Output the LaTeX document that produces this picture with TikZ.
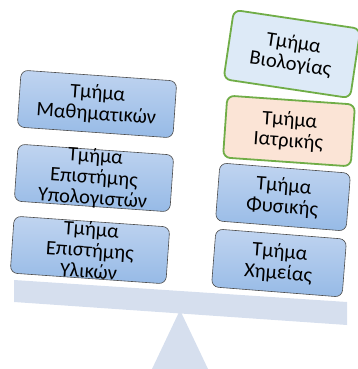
\documentclass[tikz,border=0pt]{standalone}
\usepackage{fontspec}
\setmainfont{Carlito}
\usepackage{tikz}
\usetikzlibrary{positioning}
\usetikzlibrary{shapes,calc}
\definecolor{beamblue}{RGB}{214,223,238}
\definecolor{boxtop}{RGB}{192,212,240}
\definecolor{boxbot}{RGB}{150,186,230}
\definecolor{bioblue}{RGB}{221,234,247}
\definecolor{medpeach}{RGB}{251,228,214}
\definecolor{leafgreen}{RGB}{112,173,71}
\tikzset{
	dept/.style = {rectangle, rounded corners=7pt, draw=black!70, semithick,
	 top color=boxtop, bottom color=boxbot,
	 minimum width=156pt, minimum height=57pt},
	deptr/.style = {dept, minimum width=131pt, minimum height=58pt},
	greenbox/.style = {rectangle, rounded corners=7pt, draw=leafgreen,
	 line width=1.8pt, minimum width=128pt, minimum height=62pt},
	depttext/.style = {align=center, font=\fontsize{20.5}{21}\selectfont,
	 inner sep=0pt},
}

\begin{document}
\begin{tikzpicture}[x=1pt, y=-1pt]
	\useasboundingbox (0,0) rectangle (358,369);
	% scale
	\fill[beamblue] (14,280) -- (347,302) -- (347,325) -- (14,302) -- cycle;
	\fill[beamblue] (180,310) -- (208,369) -- (152,369) -- cycle;
	% left pan
	\node (mathbox) [dept, rotate=-4] at (97,104) {};
	\node (math) [depttext, rotate=-4] at (mathbox) {Τμήμα\\Μαθηματικών};
	\node (csbox) [dept, rotate=-4] at (94,178) {};
	\node (cs) [depttext, rotate=-4] at (csbox) {Τμήμα\\Επιστήμης\\Υπολογιστών};
	\node (matbox) [dept, rotate=-4] at (90,250) {};
	\node (mat) [depttext, rotate=-4] at (matbox) {Τμήμα\\Επιστήμης\\Υλικών};
	% right pan
	\node (biobox) [greenbox, fill=bioblue, minimum height=70pt, rotate=-8.5] at (292,54) {};
	\node (bio) [depttext, rotate=-8.5] at (biobox) {Τμήμα\\Βιολογίας};
	\node (medbox) [greenbox, fill=medpeach, rotate=-4] at (289,131) {};
	\node (med) [depttext, rotate=-4] at (medbox) {Τμήμα\\Ιατρικής};
	\node (physbox) [deptr, rotate=-4.5] at (283,197) {};
	\node (phys) [depttext, rotate=-4.5] at (physbox) {Τμήμα\\Φυσικής};
	\node (chembox) [deptr, rotate=-4.5] at (279,263) {};
	\node (chem) [depttext, rotate=-4.5] at (chembox) {Τμήμα\\Χημείας};
\end{tikzpicture}
\end{document}
